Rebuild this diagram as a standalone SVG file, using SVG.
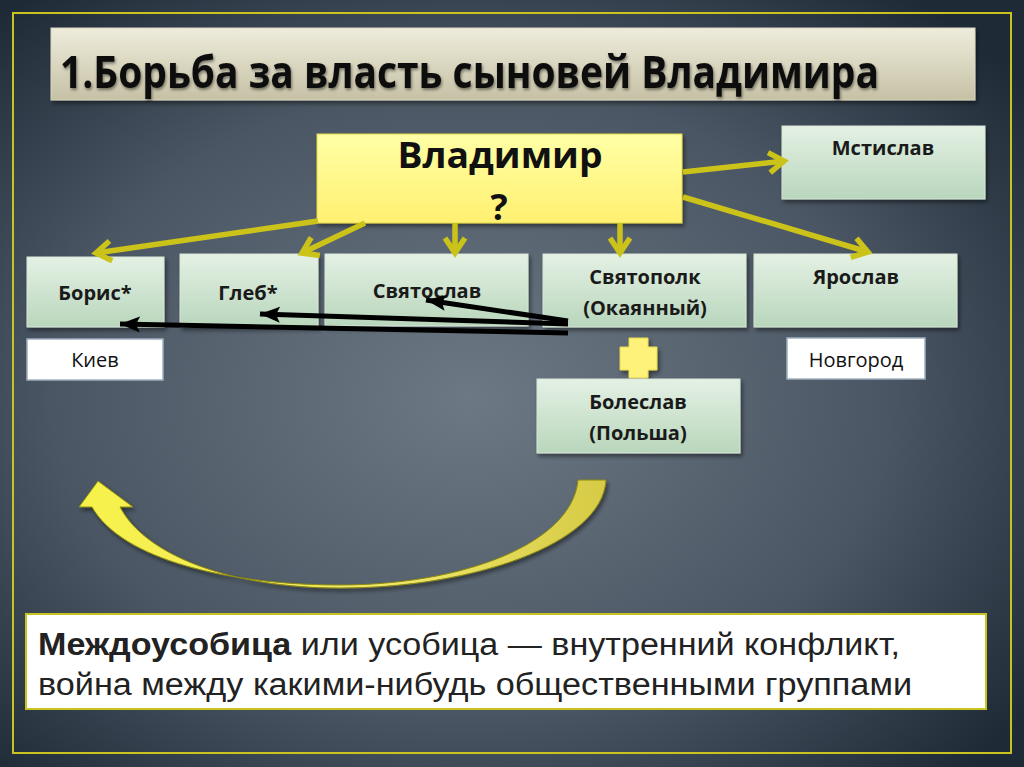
<svg xmlns="http://www.w3.org/2000/svg" width="1024" height="767" viewBox="0 0 1024 767">
<defs>
  <radialGradient id="bg" cx="46%" cy="52%" r="68%">
    <stop offset="0" stop-color="#6c7883"/>
    <stop offset="0.6" stop-color="#4a5663"/>
    <stop offset="1" stop-color="#1e2b37"/>
  </radialGradient>
  <linearGradient id="titleG" x1="0" y1="0" x2="0" y2="1">
    <stop offset="0" stop-color="#eeecdc"/>
    <stop offset="1" stop-color="#c6c1a5"/>
  </linearGradient>
  <linearGradient id="greenG" x1="0" y1="0" x2="0" y2="1">
    <stop offset="0" stop-color="#e4f1e4"/>
    <stop offset="1" stop-color="#b9d6bc"/>
  </linearGradient>
  <linearGradient id="yellowG" x1="0" y1="0" x2="0" y2="1">
    <stop offset="0" stop-color="#ffffa6"/>
    <stop offset="1" stop-color="#fff070"/>
  </linearGradient>
  <linearGradient id="curveG" x1="0" y1="0" x2="1" y2="0">
    <stop offset="0" stop-color="#f7f24a"/>
    <stop offset="0.6" stop-color="#efe86a"/>
    <stop offset="1" stop-color="#d6ca45"/>
  </linearGradient>
  <filter id="sh" x="-10%" y="-10%" width="130%" height="140%">
    <feDropShadow dx="2" dy="3" stdDeviation="2" flood-color="#000" flood-opacity="0.45"/>
  </filter>
  <filter id="tsh" x="-5%" y="-20%" width="110%" height="150%">
    <feDropShadow dx="1" dy="2" stdDeviation="1.5" flood-color="#000" flood-opacity="0.45"/>
  </filter>
  <marker id="ya" markerUnits="userSpaceOnUse" markerWidth="26" markerHeight="26" viewBox="0 0 26 26" refX="20" refY="13" orient="auto">
    <path d="M5,3 L20,13 L5,23" fill="none" stroke="#cbc31a" stroke-width="5.5" stroke-linejoin="miter"/>
  </marker>
  <marker id="ba" markerUnits="userSpaceOnUse" markerWidth="22" markerHeight="18" viewBox="0 0 22 18" refX="20" refY="9" orient="auto">
    <path d="M0,1 L20,9 L0,17 L4,9 Z" fill="#000"/>
  </marker>
  <style>
    .box { fill: url(#greenG); stroke: #d8e6d8; stroke-width: 1; filter: url(#sh); }
    .wbox { fill: #ffffff; stroke: #9fb0c0; stroke-width: 1.5; }
    .name { font-family: "Open Sans", "Noto Sans", sans-serif; font-weight: 700; font-size: 20px; fill: #1a1a1a; text-anchor: middle; }
    .city { font-family: "Open Sans", "Noto Sans", sans-serif; font-size: 20px; fill: #111; text-anchor: middle; }
    .yl { stroke: #cbc31a; stroke-width: 5.5; fill: none; marker-end: url(#ya); }
    .bl { stroke: #000; stroke-width: 5; fill: none; marker-end: url(#ba); }
  </style>
</defs>

<rect x="0" y="0" width="1024" height="767" fill="url(#bg)"/>
<rect x="13" y="13" width="998" height="740" fill="none" stroke="#c9c320" stroke-width="2"/>

<g id="title">
  <rect x="51" y="28" width="924" height="72" fill="url(#titleG)" stroke="#d9d6c2" stroke-width="1" filter="url(#sh)"/>
  <text x="60" y="88" font-family="Open Sans, Noto Sans, sans-serif" font-weight="700" font-size="44" fill="#111" textLength="819" lengthAdjust="spacingAndGlyphs" filter="url(#tsh)">1.Борьба за власть сыновей Владимира</text>
</g>

<g id="vladimir">
  <rect x="317" y="134" width="365" height="89" fill="url(#yellowG)" stroke="#e6d84a" stroke-width="1" filter="url(#sh)"/>
  <text x="500" y="168" font-family="Open Sans, Noto Sans, sans-serif" font-weight="700" font-size="35" fill="#111" text-anchor="middle" textLength="205" lengthAdjust="spacingAndGlyphs">Владимир</text>
  <text x="499" y="220" font-family="Open Sans, Noto Sans, sans-serif" font-weight="700" font-size="36" fill="#111" text-anchor="middle">?</text>
</g>

<g id="mstislav">
  <rect class="box" x="782" y="126" width="203" height="73"/>
  <text class="name" x="883" y="155">Мстислав</text>
</g>

<g id="boris">
  <rect class="box" x="27" y="257" width="137" height="70"/>
  <text class="name" x="95" y="300">Борис*</text>
</g>

<g id="gleb">
  <rect class="box" x="180" y="254" width="138" height="73"/>
  <text class="name" x="248" y="300">Глеб*</text>
</g>

<g id="svyatoslav">
  <rect class="box" x="325" y="254" width="203" height="72"/>
  <text class="name" x="427" y="298">Святослав</text>
</g>

<g id="svyatopolk">
  <rect class="box" x="543" y="254" width="203" height="73"/>
  <text class="name" x="645" y="284">Святополк</text>
  <text class="name" x="645" y="315">(Окаянный)</text>
</g>

<g id="yaroslav">
  <rect class="box" x="754" y="254" width="203" height="73"/>
  <text class="name" x="856" y="284">Ярослав</text>
</g>

<g id="kiev">
  <rect class="wbox" x="27" y="339" width="136" height="41"/>
  <text class="city" x="95" y="367">Киев</text>
</g>

<g id="novgorod">
  <rect class="wbox" x="787" y="338" width="138" height="41"/>
  <text class="city" x="856" y="367">Новгород</text>
</g>

<g id="plus">
  <path d="M629,338 H648 V347 H657 V370 H648 V378 H629 V370 H620 V347 H629 Z" fill="#fff27a" stroke="#e6d84a" stroke-width="1" filter="url(#sh)"/>
</g>

<g id="boleslav">
  <rect class="box" x="537" y="379" width="203" height="74"/>
  <text class="name" x="638" y="409">Болеслав</text>
  <text class="name" x="638" y="440">(Польша)</text>
</g>

<g id="connectors">
  <line class="yl" x1="318" y1="221" x2="96" y2="253"/>
  <line class="yl" x1="365" y1="223" x2="302" y2="253"/>
  <line class="yl" x1="455" y1="223" x2="455" y2="253"/>
  <line class="yl" x1="620" y1="223" x2="620" y2="253"/>
  <line class="yl" x1="683" y1="172" x2="784" y2="161"/>
  <line class="yl" x1="683" y1="197" x2="868" y2="252"/>
  <line class="bl" x1="568" y1="321" x2="426" y2="300"/>
  <line class="bl" x1="568" y1="324" x2="260" y2="314"/>
  <line class="bl" x1="568" y1="333" x2="120" y2="324"/>
  <path d="M578,480 L606,480 C602,545 470,588 340,588 C230,588 145,555 120,507 L133,507 L98,481 L79,507 L92,507 C122,560 230,585 340,585 C460,585 572,545 578,480 Z" fill="url(#curveG)" stroke="#8f8a10" stroke-width="1" filter="url(#sh)"/>
</g>

<g id="definition">
  <rect x="26" y="614" width="960" height="95" fill="#ffffff" stroke="#c9c320" stroke-width="2"/>
  <text x="38" y="655" font-family="Liberation Sans, Arial, sans-serif" font-size="31" fill="#222" textLength="862" lengthAdjust="spacingAndGlyphs"><tspan font-weight="700">Междоусобица</tspan> или усобица — внутренний конфликт,</text>
  <text x="38" y="695" font-family="Liberation Sans, Arial, sans-serif" font-size="31" fill="#222" textLength="874" lengthAdjust="spacingAndGlyphs">война между какими-нибудь общественными группами</text>
</g>
</svg>
